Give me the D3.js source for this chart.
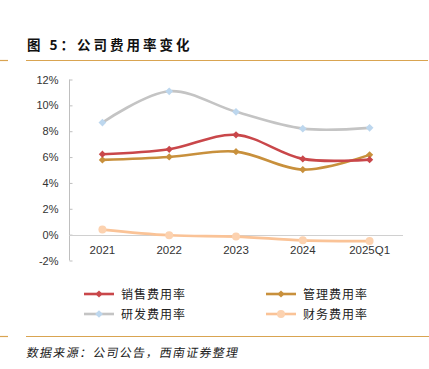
<!DOCTYPE html>
<html>
<head>
<meta charset="utf-8">
<script src="https://cdn.jsdelivr.net/npm/d3@7"></script>
<style>
body { margin: 0; background: #fff; }
svg { display: block; }
</style>
</head>
<body>
<svg id="chart" width="429" height="369"></svg>
<script>
var categories = ["2021", "2022", "2023", "2024", "2025Q1"];
var salesRate = [6.22, 6.6, 7.72, 5.86, 5.8];
var adminRate = [5.78, 6.01, 6.42, 5.03, 6.17];
var rdRate = [8.67, 11.09, 9.5, 8.2, 8.26];
var finRate = [0.39, -0.05, -0.15, -0.44, -0.5];
var yTicks = [-2, 0, 2, 4, 6, 8, 10, 12];
var seriesNames = ["销售费用率", "管理费用率", "研发费用率", "财务费用率"];

var series = [
    { name: seriesNames[0], values: salesRate, line: "#C9474A", marker: "#C9474A", shape: d3.symbolSquare, rot: 45, msize: 26 },
    { name: seriesNames[1], values: adminRate, line: "#C8903C", marker: "#C8903C", shape: d3.symbolSquare, rot: 45, msize: 26 },
    { name: seriesNames[2], values: rdRate, line: "#C4C4C4", marker: "#BDD7EE", shape: d3.symbolSquare, rot: 45, msize: 30 },
    { name: seriesNames[3], values: finRate, line: "#FAC397", marker: "#FCD2B0", shape: d3.symbolCircle, rot: 0, msize: 50 }
];

var svg = d3.select("#chart");
var font = "'Liberation Sans', Arial, sans-serif";
var cjk = "'Noto Sans CJK SC', sans-serif";

// header & footer
svg.append("text")
    .attr("x", 27).attr("y", 50)
    .attr("font-family", cjk).attr("font-weight", "bold")
    .attr("font-size", 13.5).attr("fill", "#111")
    .attr("letter-spacing", 3)
    .text("图 5：公司费用率变化");
svg.append("line").attr("x1", 0).attr("x2", 8).attr("y1", 60.5).attr("y2", 60.5)
    .attr("stroke", "#D9A451").attr("stroke-width", 1.2);
svg.append("line").attr("x1", 26).attr("x2", 428).attr("y1", 60.5).attr("y2", 60.5)
    .attr("stroke", "#D9A451").attr("stroke-width", 1.2);
svg.append("line").attr("x1", 0).attr("x2", 8).attr("y1", 336.5).attr("y2", 336.5)
    .attr("stroke", "#D9A451").attr("stroke-width", 1.2);
svg.append("line").attr("x1", 26).attr("x2", 429).attr("y1", 336.5).attr("y2", 336.5)
    .attr("stroke", "#D9A451").attr("stroke-width", 1.2);
svg.append("text")
    .attr("x", 27).attr("y", 357)
    .attr("font-family", cjk).attr("font-size", 12).attr("fill", "#222")
    .attr("letter-spacing", 1.3)
    .attr("transform", "skewX(-10) translate(62,0)")
    .text("数据来源：公司公告，西南证券整理");

var x = d3.scalePoint().domain(categories).range([69, 403]).padding(0.5);
var y = d3.scaleLinear().domain([-2, 12]).range([260.5, 79.5]);

// y axis
var yAxis = svg.append("g").attr("transform", "translate(69.5,0)")
    .call(d3.axisLeft(y).tickValues(yTicks).tickSize(-3)
        .tickFormat(function (d) { return d + "%"; }));
yAxis.select(".domain").attr("stroke", "#BFBFBF").attr("d", "M0," + y(-2) + "V" + y(12));
yAxis.selectAll(".tick line").attr("stroke", "#BFBFBF");
yAxis.selectAll(".tick text")
    .attr("x", -11).attr("font-family", font).attr("font-size", 11).attr("fill", "#333");

// zero line
svg.append("line")
    .attr("x1", 69).attr("x2", 403)
    .attr("y1", Math.round(y(0)) + 0.5).attr("y2", Math.round(y(0)) + 0.5)
    .attr("stroke", "#D0D0D0").attr("stroke-width", 1);

// category labels
svg.append("g").selectAll("text")
    .data(categories).enter().append("text")
    .attr("x", function (d) { return x(d); })
    .attr("y", 254)
    .attr("text-anchor", "middle")
    .attr("font-family", font).attr("font-size", 11.5).attr("fill", "#333")
    .text(function (d) { return d; });

var line = d3.line()
    .x(function (d, i) { return x(categories[i]); })
    .y(function (d) { return y(d); })
    .curve(d3.curveCatmullRom.alpha(0.5));

// draw in reverse so sales sits on top
series.slice().reverse().forEach(function (s) {
    svg.append("path")
        .datum(s.values)
        .attr("d", line)
        .attr("fill", "none")
        .attr("stroke", s.line)
        .attr("stroke-width", 2.6);
    svg.append("g").selectAll("path")
        .data(s.values).enter().append("path")
        .attr("transform", function (d, i) {
            return "translate(" + x(categories[i]) + "," + y(d) + ")rotate(" + s.rot + ")";
        })
        .attr("d", d3.symbol().type(s.shape).size(s.msize))
        .attr("fill", s.marker);
});

// legend
var legendPos = [[84, 294], [266, 294], [84, 314], [266, 314]];
series.forEach(function (s, i) {
    var g = svg.append("g").attr("transform", "translate(" + legendPos[i][0] + "," + legendPos[i][1] + ")");
    g.append("line").attr("x1", 0).attr("x2", 30).attr("y1", 0).attr("y2", 0)
        .attr("stroke", s.line).attr("stroke-width", 2.6);
    g.append("path").attr("transform", "translate(15,0)rotate(" + s.rot + ")")
        .attr("d", d3.symbol().type(s.shape).size(s.msize))
        .attr("fill", s.marker);
    g.append("text").attr("x", 37).attr("y", 4.5)
        .attr("font-family", cjk).attr("font-size", 12).attr("fill", "#222")
        .attr("letter-spacing", 1)
        .text(s.name);
});
</script>
</body>
</html>
